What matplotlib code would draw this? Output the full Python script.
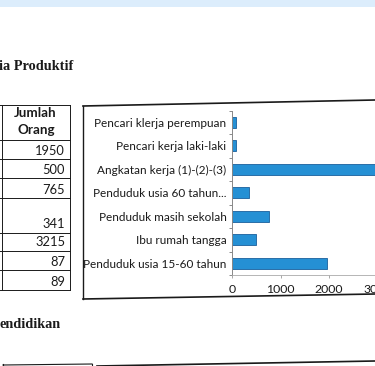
import matplotlib

matplotlib.use("Agg")
import matplotlib.pyplot as plt
from matplotlib.lines import Line2D
from matplotlib.patches import Rectangle

W, H = 375, 366

# chart data, bottom to top as drawn
categories = [
    "Penduduk usia 15-60 tahun",
    "Ibu rumah tangga",
    "Penduduk masih sekolah",
    "Penduduk usia 60 tahun...",
    "Angkatan kerja (1)-(2)-(3)",
    "Pencari kerja laki-laki",
    "Pencari klerja perempuan",
]
values = [1950, 500, 765, 341, 3215, 87, 89]
table_values = ["1950", "500", "765", "341", "3215", "87", "89"]
x_ticks = [0, 1000, 2000, 3000]

SANS = "Lato"
SERIF = "Liberation Serif"
INK = "#1a1a1a"


def fx(px):
    return px / W


def fy(py):
    return 1 - py / H


def line(fig, x0, y0, x1, y1, lw=0.8, color=INK):
    fig.add_artist(Line2D([fx(x0), fx(x1)], [fy(y0), fy(y1)],
                          transform=fig.transFigure, color=color, linewidth=lw))


fig = plt.figure(figsize=(W / 100, H / 100), dpi=100)
fig.patch.set_facecolor("white")

# light blue band at the top of the page
fig.add_artist(Rectangle((0, fy(7)), 1, 7 / H, transform=fig.transFigure,
                         facecolor="#dcedfc", edgecolor="none"))

# section headings (cut off on the left)
fig.text(fx(-1), fy(67), "ia Produktif", family=SERIF, weight="bold",
         fontsize=10.3, color=INK, ha="left", va="center")
fig.text(fx(-1), fy(325), "endidikan", family=SERIF, weight="bold",
         fontsize=10.3, color=INK, ha="left", va="center")

# left table column
row_lines = [105, 140, 159, 178, 198, 233, 251, 270, 290]
for y in row_lines:
    line(fig, 0, y, 70, y, lw=0.7)
line(fig, 2, 105, 2, 290, lw=0.7)
line(fig, 70, 105, 70, 290, lw=0.7)
fig.text(fx(35), fy(113), "Jumlah", family=SANS, weight="bold", fontsize=9.6,
         color=INK, ha="center", va="center")
fig.text(fx(36), fy(130), "Orang", family=SANS, weight="bold", fontsize=9.6,
         color=INK, ha="center", va="center")
for i, txt in enumerate(table_values):
    y_bottom = row_lines[i + 2]
    fig.text(fx(65), fy(y_bottom - 8.5), txt, family=SANS, fontsize=9.3,
             color=INK, ha="right", va="center")

# chart frame
line(fig, 83, 106, 375, 100, lw=1.2)
line(fig, 83, 106, 83, 299, lw=1.0)
line(fig, 83, 299, 375, 294, lw=1.2)

# bar chart
x0_px, top_px, bot_px = 232, 110.5, 275
px_per_unit = 0.0485
xmax = 3500
ax = fig.add_axes([fx(x0_px), fy(bot_px), xmax * px_per_unit / W, (bot_px - top_px) / H])
ypos = list(range(len(categories)))
ax.barh(ypos, values, height=0.45, color="#2590d4", edgecolor="#1a5f9c", linewidth=0.6)
ax.set_xlim(0, xmax)
ax.set_ylim(-0.5, len(categories) - 0.5)
ax.set_yticks(ypos)
ax.set_yticklabels(categories, family=SANS, fontsize=8.5, color=INK)
ax.set_yticks([y - 0.5 for y in range(len(categories) + 1)], minor=True)
ax.tick_params(axis="y", which="major", length=0, pad=4)
ax.tick_params(axis="y", which="minor", length=2.5, color="#777777", width=0.6)
ax.set_xticks(x_ticks)
ax.set_xticklabels([str(t) for t in x_ticks], family=SANS, fontsize=8.8, color=INK)
ax.tick_params(axis="x", length=2, color="#999999", width=0.6, pad=4.5)
for side in ("top", "right"):
    ax.spines[side].set_visible(False)
ax.spines["left"].set_color("#888888")
ax.spines["left"].set_linewidth(0.7)
ax.spines["bottom"].set_color("#aaaaaa")
ax.spines["bottom"].set_linewidth(0.6)
ax.patch.set_alpha(0)

# start of the next table at the bottom edge
line(fig, 3, 365, 92, 364, lw=0.8)
line(fig, 3, 364, 3, 367, lw=0.8)
line(fig, 92, 364, 92, 367, lw=0.8)
line(fig, 97, 366, 375, 361, lw=1.2)

fig.savefig("out.png", dpi=100)
